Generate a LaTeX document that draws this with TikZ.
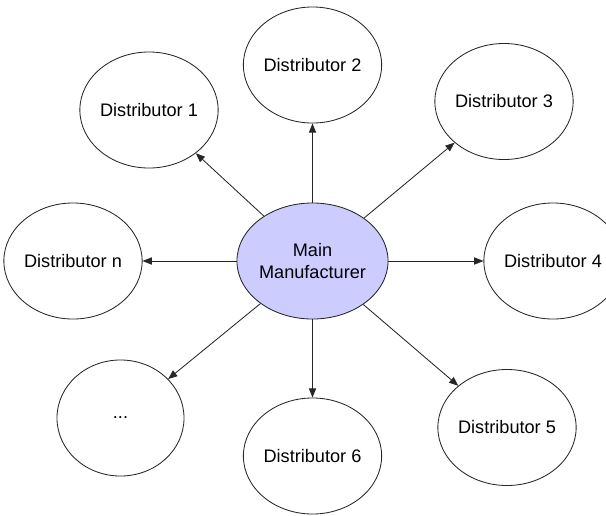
\documentclass[tikz,border=0pt]{standalone}
\usepackage{fontspec}
\setmainfont{Liberation Sans}
\usetikzlibrary{shapes.geometric,arrows.meta}

\definecolor{mainfill}{RGB}{204,204,255}

\begin{document}
\begin{tikzpicture}[x=0.025cm,y=-0.025cm]
  \tikzstyle{every node}=[font=\fontsize{12.9}{15.6}\selectfont]
  \tikzstyle{distributor}=[draw=black!85,ellipse,line width=0.6pt,minimum width=3.175cm,minimum height=2.9cm,inner sep=0pt,align=center]
  \tikzstyle{flow}=[draw=black!85,line width=0.6pt,-{Triangle[length=2.3mm,width=1.8mm]}]

    \useasboundingbox (0,0) rectangle (606,515);

    \node[distributor, fill=mainfill] (main) at (312.5, 261) {Main\\Manufacturer};

    \node[distributor] (d1) at (149, 110) {Distributor 1};
    \node[distributor] (d2) at (312.5, 65) {Distributor 2};
    \node[distributor] (d3) at (504, 101.5) {Distributor 3};
    \node[distributor] (d4) at (553, 261) {Distributor 4};
    \node[distributor] (d5) at (507, 427.5) {Distributor 5};
    \node[distributor] (d6) at (312.5, 456) {Distributor 6};
    \node[distributor] (ddots) at (120.5, 418) {...};
    \node[distributor] (dn) at (73, 261) {Distributor n};

    \foreach \d in {d1,d2,d3,d4,d5,d6,ddots,dn}
      \draw[flow] (main) -- (\d);

\end{tikzpicture}
\end{document}
